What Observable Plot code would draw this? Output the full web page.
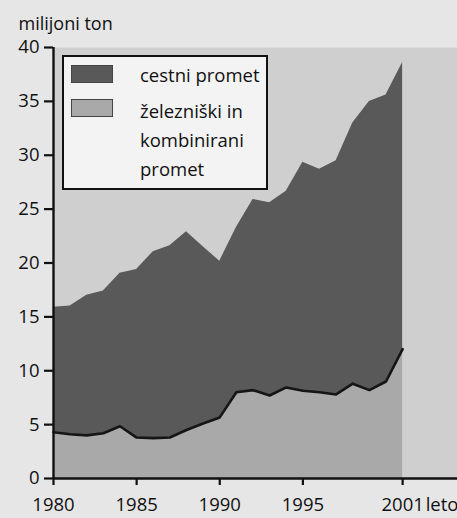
<!DOCTYPE html>
<html>
<head>
<meta charset="utf-8">
<script src="https://cdn.jsdelivr.net/npm/d3@7"></script>
<script src="https://cdn.jsdelivr.net/npm/@observablehq/plot@0.6"></script>
<style>
  html, body { margin: 0; padding: 0; background: #e6e6e6; }
  body { width: 457px; height: 518px; position: relative; overflow: hidden; font-family: "Open Sans", sans-serif; color: #111; }
  #chart { position: absolute; left: 0; top: 0; }
  #legend { position: absolute; left: 62px; top: 55px; width: 206px; height: 135px; box-sizing: border-box;
            background: #f3f3f3; border: 2px solid #111; }
  .sw { position: absolute; left: 7px; width: 42px; height: 18px; box-sizing: border-box; border: 1px solid #444; }
  .lab { position: absolute; left: 76px; width: 124px; font-size: 18.5px; line-height: 29px; }
</style>
</head>
<body>
<div id="chart"></div>
<div id="legend"></div>
<script>
// ---- data ----
const years = [1980,1981,1982,1983,1984,1985,1986,1987,1988,1989,1990,1991,1992,1993,1994,1995,1996,1997,1998,1999,2000,2001];
// železniški in kombinirani promet (million tonnes)
const rail = [4.3,4.1,4.0,4.2,4.85,3.8,3.75,3.8,4.5,5.1,5.67,8.0,8.2,7.7,8.45,8.15,8.0,7.8,8.8,8.2,9.0,12.0];
// cestni promet (million tonnes)
const road = [11.6,11.9,13.0,13.2,14.2,15.6,17.3,17.8,18.4,16.4,14.5,15.3,17.7,17.9,18.2,21.2,20.7,21.7,24.2,26.8,26.6,26.6];
const seriesNames = ["cestni promet", "železniški in kombinirani promet"];
const seriesColors = ["#595959", "#a9a9a9"];
const yTicks = [0,5,10,15,20,25,30,35,40];
const xTicks = [1980,1985,1990,1995,2001];
const yLabel = "milijoni ton";
const xUnit = "leto";

// ---- build table ----
const table = [];
years.forEach((yr, i) => table.push({year: yr, series: seriesNames[1], value: rail[i]}));
years.forEach((yr, i) => table.push({year: yr, series: seriesNames[0], value: road[i]}));
const railRows = table.filter(d => d.series === seriesNames[1]);
const lastYear = years[years.length - 1];

const chart = Plot.plot({
  width: 457,
  height: 518,
  marginTop: 47,
  marginLeft: 53,
  marginRight: 0,
  marginBottom: 40,
  style: {background: "transparent", fontFamily: "Open Sans, sans-serif", fontSize: "18.5px", color: "#111"},
  x: {domain: [1980, 2004.3]},
  y: {domain: [0, 40]},
  color: {domain: seriesNames, range: seriesColors},
  marks: [
    Plot.frame({fill: "#cfcfcf", stroke: null}),
    Plot.areaY(table, {x: "year", y: "value", fill: "series", z: "series", order: [seriesNames[1], seriesNames[0]], curve: "linear"}),
    Plot.lineY(railRows, {x: "year", y: "value", stroke: "#151515", strokeWidth: 2.6, strokeLinejoin: "round"}),
    Plot.ruleY([0], {stroke: "#111", strokeWidth: 2.4}),
    Plot.ruleX([years[0]], {stroke: "#111", strokeWidth: 2.4}),
    Plot.axisY({ticks: yTicks, tickSize: 9, tickPadding: 5, strokeWidth: 2.2, label: null, fontSize: 18.5, tickFormat: d => String(d)}),
    Plot.axisX({ticks: xTicks, tickSize: 7, tickPadding: 12, strokeWidth: 2.2, label: null, fontSize: 18.5, tickFormat: d => String(d)}),
    Plot.text([yLabel], {frameAnchor: "top-left", dx: -35, dy: -18, textAnchor: "start", lineAnchor: "bottom", fontSize: 18}),
    Plot.text([xUnit], {x: () => lastYear, y: () => 0, dx: 23, dy: 19, textAnchor: "start", lineAnchor: "top", fontSize: 18.5, clip: false})
  ]
});
document.getElementById("chart").append(chart);

// ---- legend ----
const legend = document.getElementById("legend");
const swTops = [8, 42];
const labTops = [3, 39];
seriesNames.forEach((name, i) => {
  const sw = document.createElement("div");
  sw.className = "sw";
  sw.style.top = swTops[i] + "px";
  sw.style.background = seriesColors[i];
  legend.append(sw);
  const lab = document.createElement("div");
  lab.className = "lab";
  lab.style.top = labTops[i] + "px";
  lab.textContent = name;
  legend.append(lab);
});
</script>
</body>
</html>
